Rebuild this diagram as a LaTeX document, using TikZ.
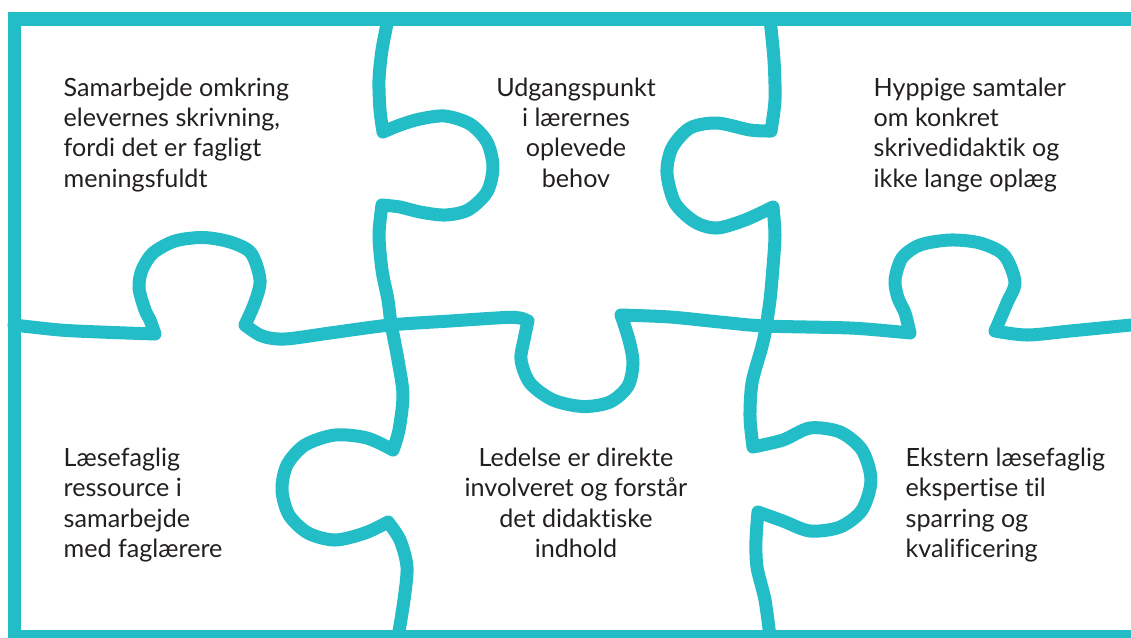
\documentclass[tikz,border=0pt]{standalone}
\usepackage{fontspec}
\setmainfont{Lato}[Ligatures=NoCommon]
\usepackage{tikz}
\definecolor{puzzle}{RGB}{34,189,198}
\definecolor{ink}{RGB}{35,31,32}

\begin{document}
\begin{tikzpicture}[x=1cm,y=-1cm,
  piece/.style={draw=puzzle,line width=3.7pt,line cap=round,line join=round},
  frame/.style={draw=puzzle,line width=3.8pt},
  txt/.style={inner sep=0pt,text=ink,font=\fontsize{7.15}{8.54}\selectfont}]
\useasboundingbox (0,0) rectangle (11.31,6.37);
\clip (0,0) rectangle (11.31,6.37);
\draw[frame] (11.5,0.19) -- (0.145,0.19) -- (0.145,6.365) -- (11.5,6.365);
% middle cut, left to right
\draw[piece] plot[smooth] coordinates {(0.14,3.25) (0.60,3.30) (1.00,3.32) (1.55,3.34)}
  plot[smooth] coordinates {(1.55,3.34) (1.50,3.20) (1.45,3.10) (1.39,2.88) (1.42,2.70) (1.53,2.53) (1.75,2.41) (2.03,2.375) (2.30,2.42) (2.51,2.53) (2.60,2.80) (2.55,3.02) (2.45,3.25)}
  plot[smooth] coordinates {(2.45,3.25) (2.62,3.36) (2.85,3.39) (3.30,3.33) (3.90,3.25) (4.50,3.21) (5.05,3.175) (5.20,3.18) (5.28,3.21)}
  plot[smooth] coordinates {(5.28,3.21) (5.24,3.40) (5.21,3.60) (5.30,3.83) (5.53,4.00) (5.83,4.065) (6.10,4.02) (6.28,3.86) (6.33,3.63) (6.29,3.40) (6.21,3.15)}
  plot[smooth] coordinates {(6.21,3.15) (6.70,3.17) (7.20,3.22) (7.65,3.26) (8.50,3.28) (9.00,3.32) (9.10,3.33)}
  plot[smooth] coordinates {(9.10,3.33) (9.05,3.13) (8.98,2.98) (8.95,2.80) (9.02,2.58) (9.20,2.45) (9.50,2.40) (9.80,2.43) (10.04,2.55) (10.15,2.82) (10.07,3.03) (9.95,3.31)}
  plot[smooth] coordinates {(9.95,3.31) (10.27,3.35) (10.70,3.31) (11.31,3.25) (11.50,3.23)};
% left upright
\draw[piece] plot[smooth] coordinates {(3.88,0.19) (3.82,0.50) (3.79,0.80) (3.80,1.10) (3.83,1.32)}
  plot[smooth] coordinates {(3.83,1.32) (4.00,1.25) (4.20,1.19) (4.45,1.16) (4.70,1.24) (4.87,1.42) (4.93,1.67) (4.87,1.92) (4.68,2.10) (4.45,2.15) (4.20,2.12) (4.00,2.07) (3.82,2.05)}
  plot[smooth] coordinates {(3.82,2.05) (3.79,2.35) (3.82,2.70) (3.88,3.00) (3.91,3.23) (3.98,3.60) (4.03,3.95) (3.99,4.30) (3.93,4.50)}
  plot[smooth] coordinates {(3.93,4.50) (3.67,4.38) (3.35,4.35) (3.05,4.45) (2.87,4.65) (2.82,4.90) (2.89,5.15) (3.08,5.33) (3.35,5.40) (3.65,5.33) (3.88,5.22)}
  plot[smooth] coordinates {(3.88,5.22) (4.00,5.40) (4.07,5.67) (4.04,6.00) (3.98,6.37)};
% right upright
\draw[piece] plot[smooth] coordinates {(7.70,0.19) (7.74,0.60) (7.75,1.00) (7.71,1.31)}
  plot[smooth] coordinates {(7.71,1.31) (7.50,1.30) (7.17,1.23) (6.90,1.28) (6.72,1.48) (6.67,1.73) (6.75,2.03) (6.95,2.22) (7.17,2.28) (7.45,2.20) (7.73,2.07)}
  plot[smooth] coordinates {(7.73,2.07) (7.75,2.35) (7.73,2.67) (7.70,3.00) (7.65,3.33) (7.61,3.50) (7.52,3.83) (7.50,4.17) (7.53,4.47)}
  plot[smooth] coordinates {(7.53,4.47) (7.83,4.40) (8.10,4.28) (8.40,4.32) (8.62,4.50) (8.71,4.80) (8.62,5.10) (8.40,5.27) (8.10,5.31) (7.83,5.21) (7.58,5.12)}
  plot[smooth] coordinates {(7.58,5.12) (7.56,5.40) (7.57,5.67) (7.65,6.00) (7.70,6.37)};
% base anchor sits on the last line
\node[txt,anchor=base west,align=left] (samarbejde) at (0.63,1.87) {Samarbejde omkring\\elevernes skrivning,\\fordi det er fagligt\\meningsfuldt};
\node[txt,anchor=base,align=center] (udgang) at (5.76,1.87) {Udgangspunkt\\i lærernes\\oplevede\\behov};
\node[txt,anchor=base west,align=left] (hyppige) at (8.73,1.87) {Hyppige samtaler\\om konkret\\skrivedidaktik og\\ikke lange oplæg};
\node[txt,anchor=base west,align=left] (laese) at (0.63,5.57) {Læsefaglig\\ressource i\\samarbejde\\med faglærere};
\node[txt,anchor=base,align=center] (ledelse) at (5.76,5.57) {Ledelse er direkte\\involveret og forstår\\det didaktiske\\indhold};
\node[txt,anchor=base west,align=left] (ekstern) at (9.05,5.57) {Ekstern læsefaglig\\ekspertise til\\sparring og\\kvalificering};
\end{tikzpicture}
\end{document}
